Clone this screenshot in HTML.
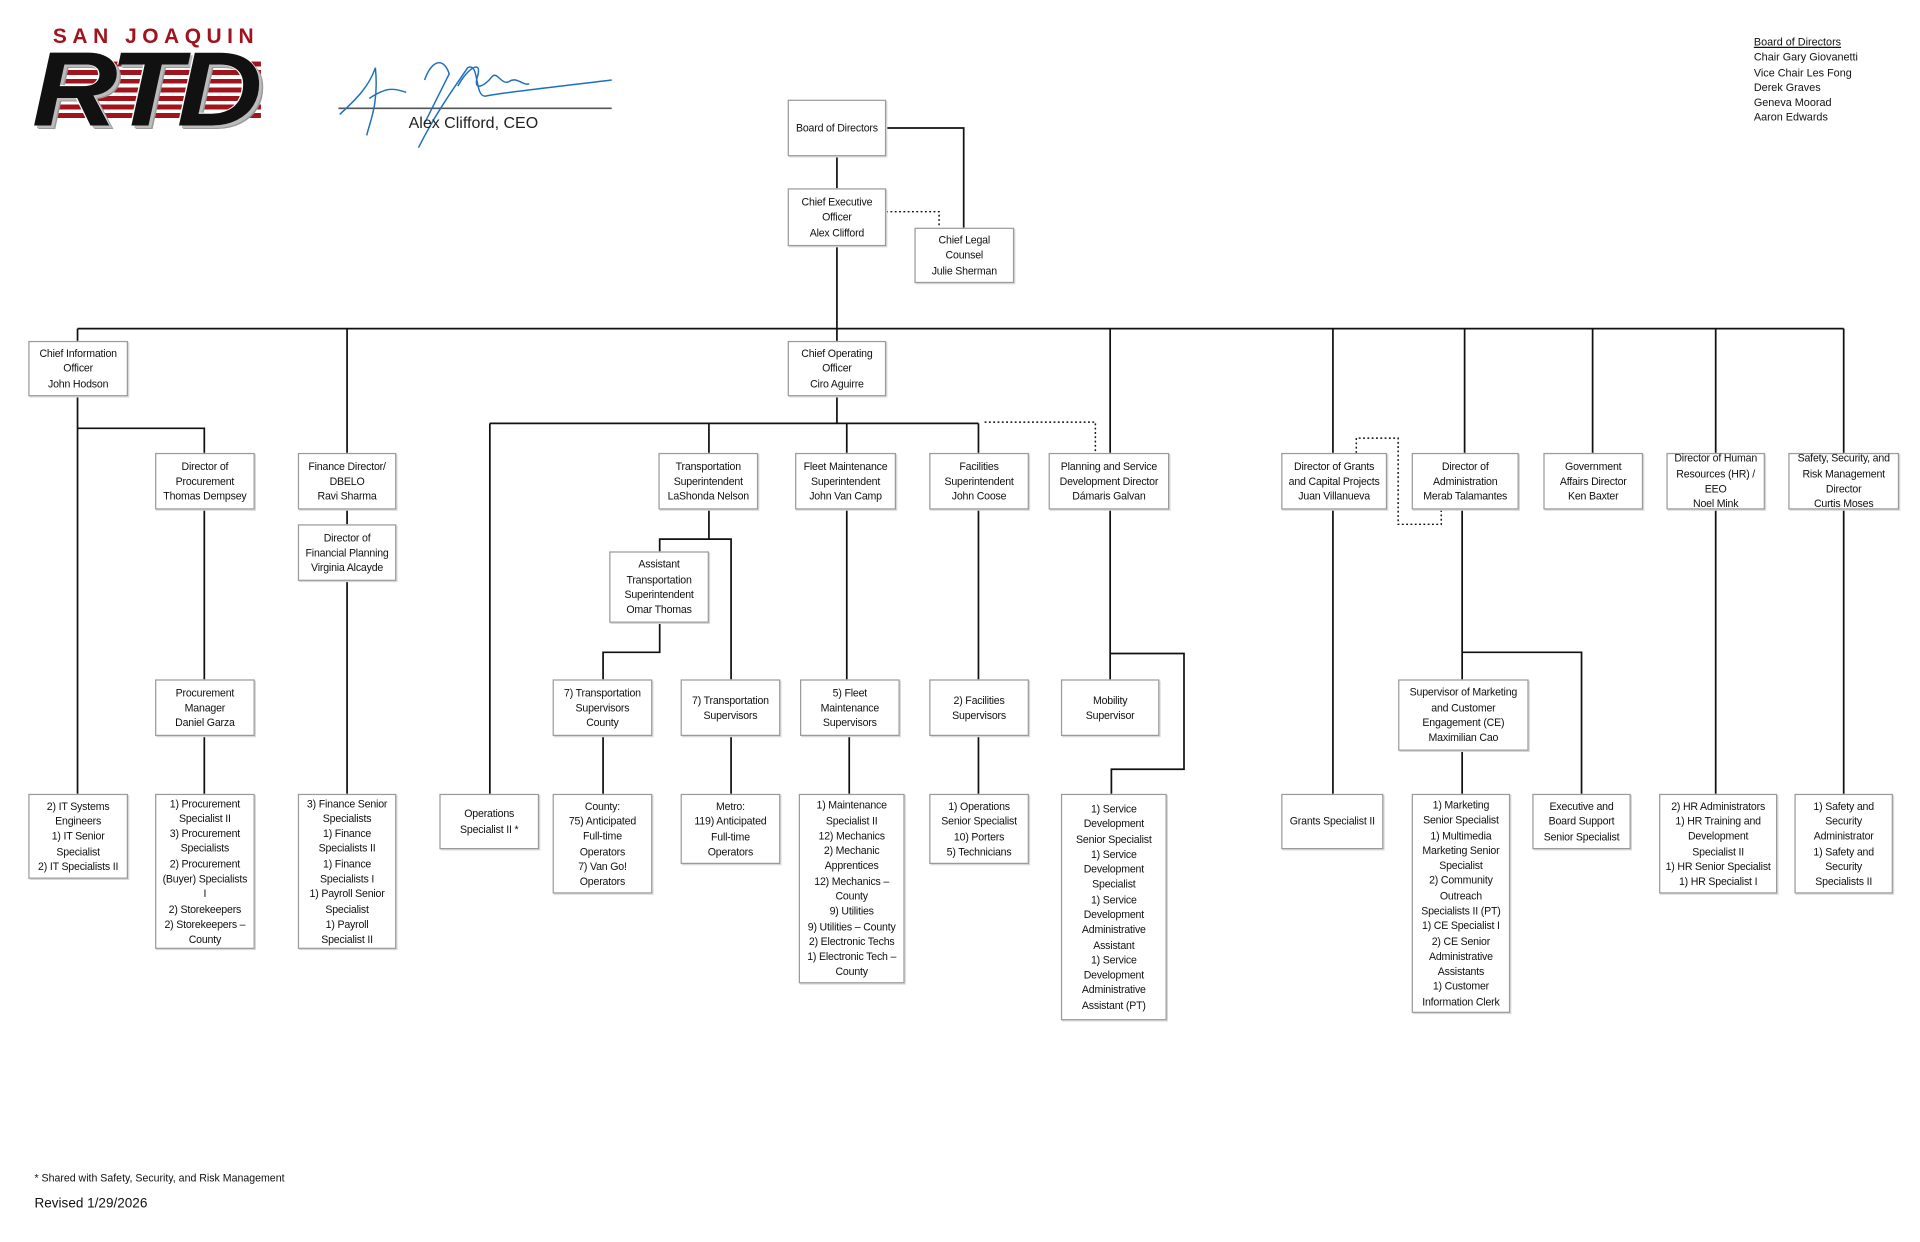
<!DOCTYPE html>
<html><head><meta charset="utf-8"><style>
html,body{margin:0;padding:0;background:#fff;}
body{width:1920px;height:1242px;overflow:hidden;position:relative;}
#c{position:absolute;left:0;top:0;width:1560px;height:1009px;transform:scale(1.23077);transform-origin:0 0;font-family:"Liberation Sans",sans-serif;}
.b{position:absolute;box-sizing:border-box;border:1px solid #9a9a9a;box-shadow:1px 1px 0 #d8d8d8;background:#fff;display:flex;align-items:center;justify-content:center;text-align:center;font-size:8.6px;line-height:12.3px;color:#111;white-space:nowrap;letter-spacing:-0.15px;}
svg{position:absolute;left:0;top:0;}
.t{position:absolute;font-size:8.8px;line-height:12.3px;color:#111;white-space:nowrap;}
</style></head><body><div id="c">
<svg width="1560" height="1009" viewBox="0 0 1560 1009">
<g stroke="#111" stroke-width="1.4" fill="none">
<path d="M720 104H783V185"/>
<path d="M680 127V153"/>
<path d="M680 200V277"/>
<path d="M63 267H1498"/>
<path d="M63 267V277M282 267V368M902 267V368M1083 267V368M1190 267V368M1294 267V368M1394 267V368M1498 267V368"/>
<path d="M63 322V645M63 348H166V368M166 414V552M166 598V645"/>
<path d="M282 414V426M282 472V645"/>
<path d="M680 322V344M398 344H795M398 344V645M576 344V368M688 344V368M795 344V368"/>
<path d="M576 414V438H536V448M576 438H594V552M536 506V530H490V552M490 598V645M594 598V645"/>
<path d="M688 414V552M690 598V645"/>
<path d="M795 414V552M795 598V645"/>
<path d="M902 414V552M902 531H962V625H903V645"/>
<path d="M1083 414V645"/>
<path d="M1188 414V552M1188 530H1285V645M1188 610V645"/>
<path d="M1394 414V645M1498 414V645"/>
</g>
<g stroke="#111" stroke-width="1.2" fill="none" stroke-dasharray="1.5 2">
<path d="M720 172H763V185"/>
<path d="M800 343H890V368"/>
<path d="M1102 368V356H1136V426H1171V414"/>
</g>
<line x1="275" y1="88" x2="497" y2="88" stroke="#555" stroke-width="1.3"/>
<path d="M276 93C290 80 300 70 305 55 308 85 300 100 298 110M300 80C315 70 320 72 330 75M345 65C350 50 360 45 365 60 355 80 350 90 345 100M340 120C355 90 370 70 380 55 390 50 385 80 395 78 410 75 440 72 497 65M372 70C380 55 392 48 388 62 384 75 394 70 400 62 404 58 408 70 414 66 420 62 425 70 430 68" stroke="#1e6fc0" stroke-width="1.2" fill="none"/>
</svg>
<div style="position:absolute;left:43px;top:20px;font:bold 17px 'Liberation Sans',sans-serif;letter-spacing:4.5px;color:#a0141e;">SAN JOAQUIN</div>
<div style="position:absolute;left:40px;top:50px;width:172px;height:48px;background:repeating-linear-gradient(#a0141e 0 4px,#fff 4px 7px);"></div>
<div style="position:absolute;left:26px;top:30px;font:italic 900 86px/86px 'Liberation Sans',sans-serif;color:#111;letter-spacing:-4px;transform:scaleX(1.12);transform-origin:0 0;text-shadow:-1px 0 #fff,0 -1px #fff,2px 2px 0 #bbb,3px 3px 0 #999;">RTD</div>
<div style="position:absolute;left:332px;top:92px;font-size:13px;color:#222;">Alex Clifford, CEO</div>
<div class="t" style="left:1425px;top:28px;"><u>Board of Directors</u><br>Chair Gary Giovanetti<br>Vice Chair Les Fong<br>Derek Graves<br>Geneva Moorad<br>Aaron Edwards</div>
<div class="t" style="left:28px;top:951px;font-size:8.6px;">* Shared with Safety, Security, and Risk Management</div>
<div class="t" style="left:28px;top:972px;font-size:11px;">Revised 1/29/2026</div>

<div class="b" style="left:640px;top:81px;width:80px;height:46px;">Board of Directors</div>
<div class="b" style="left:640px;top:153px;width:80px;height:47px;">Chief Executive<br>Officer<br>Alex Clifford</div>
<div class="b" style="left:743px;top:185px;width:81px;height:45px;">Chief Legal<br>Counsel<br>Julie Sherman</div>
<div class="b" style="left:23px;top:277px;width:81px;height:45px;">Chief Information<br>Officer<br>John Hodson</div>
<div class="b" style="left:640px;top:277px;width:80px;height:45px;">Chief Operating<br>Officer<br>Ciro Aguirre</div>
<div class="b" style="left:126px;top:368px;width:81px;height:46px;">Director of<br>Procurement<br>Thomas Dempsey</div>
<div class="b" style="left:242px;top:368px;width:80px;height:46px;">Finance Director/<br>DBELO<br>Ravi Sharma</div>
<div class="b" style="left:242px;top:426px;width:80px;height:46px;">Director of<br>Financial Planning<br>Virginia Alcayde</div>
<div class="b" style="left:535px;top:368px;width:81px;height:46px;">Transportation<br>Superintendent<br>LaShonda Nelson</div>
<div class="b" style="left:646px;top:368px;width:82px;height:46px;">Fleet Maintenance<br>Superintendent<br>John Van Camp</div>
<div class="b" style="left:755px;top:368px;width:81px;height:46px;">Facilities<br>Superintendent<br>John Coose</div>
<div class="b" style="left:852px;top:368px;width:98px;height:46px;">Planning and Service<br>Development Director<br>Dámaris Galvan</div>
<div class="b" style="left:1041px;top:368px;width:86px;height:46px;">Director of Grants<br>and Capital Projects<br>Juan Villanueva</div>
<div class="b" style="left:1147px;top:368px;width:87px;height:46px;">Director of<br>Administration<br>Merab Talamantes</div>
<div class="b" style="left:1254px;top:368px;width:81px;height:46px;">Government<br>Affairs Director<br>Ken Baxter</div>
<div class="b" style="left:1354px;top:368px;width:80px;height:46px;">Director of Human<br>Resources (HR) /<br>EEO<br>Noel Mink</div>
<div class="b" style="left:1453px;top:368px;width:90px;height:46px;">Safety, Security, and<br>Risk Management<br>Director<br>Curtis Moses</div>
<div class="b" style="left:495px;top:448px;width:81px;height:58px;">Assistant<br>Transportation<br>Superintendent<br>Omar Thomas</div>
<div class="b" style="left:126px;top:552px;width:81px;height:46px;">Procurement<br>Manager<br>Daniel Garza</div>
<div class="b" style="left:449px;top:552px;width:81px;height:46px;">7) Transportation<br>Supervisors<br>County</div>
<div class="b" style="left:553px;top:552px;width:81px;height:46px;">7) Transportation<br>Supervisors</div>
<div class="b" style="left:650px;top:552px;width:81px;height:46px;">5) Fleet<br>Maintenance<br>Supervisors</div>
<div class="b" style="left:755px;top:552px;width:81px;height:46px;">2) Facilities<br>Supervisors</div>
<div class="b" style="left:862px;top:552px;width:80px;height:46px;">Mobility<br>Supervisor</div>
<div class="b" style="left:1136px;top:552px;width:106px;height:58px;">Supervisor of Marketing<br>and Customer<br>Engagement (CE)<br>Maximilian Cao</div>
<div class="b" style="left:23px;top:645px;width:81px;height:69px;">2) IT Systems<br>Engineers<br>1) IT Senior<br>Specialist<br>2) IT Specialists II</div>
<div class="b" style="left:126px;top:645px;width:81px;height:126px;">1) Procurement<br>Specialist II<br>3) Procurement<br>Specialists<br>2) Procurement<br>(Buyer) Specialists<br>I<br>2) Storekeepers<br>2) Storekeepers –<br>County</div>
<div class="b" style="left:242px;top:645px;width:80px;height:126px;">3) Finance Senior<br>Specialists<br>1) Finance<br>Specialists II<br>1) Finance<br>Specialists I<br>1) Payroll Senior<br>Specialist<br>1) Payroll<br>Specialist II</div>
<div class="b" style="left:357px;top:645px;width:81px;height:45px;">Operations<br>Specialist II *</div>
<div class="b" style="left:449px;top:645px;width:81px;height:81px;">County:<br>75) Anticipated<br>Full-time<br>Operators<br>7) Van Go!<br>Operators</div>
<div class="b" style="left:553px;top:645px;width:81px;height:57px;">Metro:<br>119) Anticipated<br>Full-time<br>Operators</div>
<div class="b" style="left:649px;top:645px;width:86px;height:154px;">1) Maintenance<br>Specialist II<br>12) Mechanics<br>2) Mechanic<br>Apprentices<br>12) Mechanics –<br>County<br>9) Utilities<br>9) Utilities – County<br>2) Electronic Techs<br>1) Electronic Tech –<br>County</div>
<div class="b" style="left:755px;top:645px;width:81px;height:57px;">1) Operations<br>Senior Specialist<br>10) Porters<br>5) Technicians</div>
<div class="b" style="left:862px;top:645px;width:86px;height:184px;">1) Service<br>Development<br>Senior Specialist<br>1) Service<br>Development<br>Specialist<br>1) Service<br>Development<br>Administrative<br>Assistant<br>1) Service<br>Development<br>Administrative<br>Assistant (PT)</div>
<div class="b" style="left:1041px;top:645px;width:83px;height:45px;">Grants Specialist II</div>
<div class="b" style="left:1147px;top:645px;width:80px;height:178px;">1) Marketing<br>Senior Specialist<br>1) Multimedia<br>Marketing Senior<br>Specialist<br>2) Community<br>Outreach<br>Specialists II (PT)<br>1) CE Specialist I<br>2) CE Senior<br>Administrative<br>Assistants<br>1) Customer<br>Information Clerk</div>
<div class="b" style="left:1245px;top:645px;width:80px;height:45px;">Executive and<br>Board Support<br>Senior Specialist</div>
<div class="b" style="left:1348px;top:645px;width:96px;height:81px;">2) HR Administrators<br>1) HR Training and<br>Development<br>Specialist II<br>1) HR Senior Specialist<br>1) HR Specialist I</div>
<div class="b" style="left:1458px;top:645px;width:80px;height:81px;">1) Safety and<br>Security<br>Administrator<br>1) Safety and<br>Security<br>Specialists II</div>
</div></body></html>
